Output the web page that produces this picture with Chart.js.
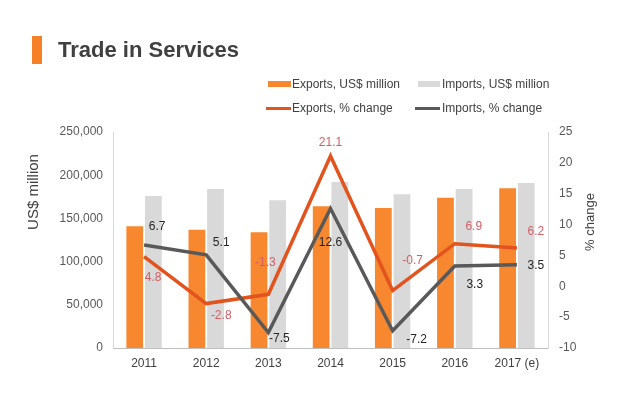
<!DOCTYPE html>
<html>
<head>
<meta charset="utf-8">
<script src="https://cdn.jsdelivr.net/npm/chart.js@4/dist/chart.umd.min.js"></script>
<style>
  body { margin: 0; background: #fff; font-family: "Liberation Sans", Arial, sans-serif; }
  #wrap { position: relative; width: 635px; height: 397px; }
  #chartBox { position: absolute; left: 0; top: 0; width: 635px; height: 397px; }
  .bar { position: absolute; left: 32px; top: 36px; width: 10px; height: 28px; background: #f58025; }
  .title { position: absolute; left: 58px; top: 36px; font-size: 22px; font-weight: bold; color: #404040; line-height: 28px; }
  .lg { position: absolute; font-size: 12px; color: #404040; line-height: 14px; white-space: nowrap; }
  .sw { position: absolute; }
  .ytitle { position: absolute; color: #404040; white-space: nowrap; transform: rotate(-90deg); transform-origin: center center; }
</style>
</head>
<body>
<div id="wrap">
  <div id="chartBox"><canvas id="tradeChart"></canvas></div>
  <div class="bar"></div>
  <div class="title">Trade in Services</div>

  <div class="sw" style="left:268px;top:81px;width:23px;height:6px;background:#f7882f"></div>
  <div class="lg" style="left:292px;top:77px">Exports, US$ million</div>
  <div class="sw" style="left:418px;top:81px;width:22px;height:6px;background:#d9d9d9"></div>
  <div class="lg" style="left:442px;top:77px">Imports, US$ million</div>

  <div class="sw" style="left:266px;top:107px;width:25px;height:3px;background:#e2531d"></div>
  <div class="lg" style="left:292px;top:101px">Exports, % change</div>
  <div class="sw" style="left:415px;top:107px;width:25px;height:3px;background:#595959"></div>
  <div class="lg" style="left:442px;top:101px">Imports, % change</div>

  <div class="ytitle" style="left:-7px;top:183px;width:80px;height:18px;font-size:15px;line-height:18px;text-align:center">US$ million</div>
  <div class="ytitle" style="left:560px;top:214px;width:60px;height:16px;font-size:13px;line-height:16px;text-align:center">% change</div>
</div>
<script>
window.onload = function() {

  // データ
  var years = ["2011", "2012", "2013", "2014", "2015", "2016", "2017 (e)"];
  var exportsValue = [141000, 137000, 134000, 164000, 162000, 174000, 185000];
  var importsValue = [176000, 184000, 171000, 192000, 178000, 184000, 191000];
  var exportsChange = [4.8, -2.8, -1.3, 21.1, -0.7, 6.9, 6.2];
  var importsChange = [6.7, 5.1, -7.5, 12.6, -7.2, 3.3, 3.5];

  // ラベル位置 (点からのずれ)
  var exportsLabelShift = [[9, 21], [15, 12], [-3, -32], [0, -13], [20, -30], [19, -17], [19, -16]];
  var importsLabelShift = [[13, -18], [15, -12], [11, 6], [0, 34], [24, 9], [20, 19], [19, 1]];

  var pointLabels = {
    id: "pointLabels",
    afterDatasetsDraw: function(chart) {
      var ctx = chart.ctx;
      ctx.save();
      ctx.font = "12px 'Liberation Sans', Arial, sans-serif";
      ctx.textAlign = "center";
      ctx.textBaseline = "middle";
      chart.data.datasets.forEach(function(ds, di) {
        if (!ds.labelShift) return;
        var meta = chart.getDatasetMeta(di);
        ctx.fillStyle = ds.labelColor;
        meta.data.forEach(function(pt, i) {
          var s = ds.labelShift[i];
          ctx.fillText(ds.data[i].toFixed(1), pt.x + s[0], pt.y + s[1]);
        });
      });
      ctx.restore();
    }
  };

  var ctx = document.getElementById("tradeChart").getContext("2d");

  var myChart = new Chart(ctx, {
    type: "bar",
    data: {
      labels: years,
      datasets: [
        {
          type: "line",
          label: "Exports, % change",
          data: exportsChange,
          yAxisID: "y1",
          borderColor: "#e2531d",
          borderWidth: 3.5,
          pointRadius: 0,
          tension: 0,
          order: 1,
          labelShift: exportsLabelShift,
          labelColor: "#d45d63"
        },
        {
          type: "line",
          label: "Imports, % change",
          data: importsChange,
          yAxisID: "y1",
          borderColor: "#595959",
          borderWidth: 3.5,
          pointRadius: 0,
          tension: 0,
          order: 0,
          labelShift: importsLabelShift,
          labelColor: "#262626"
        },
        {
          label: "Exports, US$ million",
          data: exportsValue,
          yAxisID: "y",
          backgroundColor: "#f7882f",
          categoryPercentage: 0.6,
          barPercentage: 0.9,
          order: 2
        },
        {
          label: "Imports, US$ million",
          data: importsValue,
          yAxisID: "y",
          backgroundColor: "#d9d9d9",
          categoryPercentage: 0.6,
          barPercentage: 0.9,
          order: 3
        }
      ]
    },
    options: {
      responsive: true,
      maintainAspectRatio: false,
      animation: false,
      layout: { padding: { top: 132, left: 0, right: 0, bottom: 0 } },
      plugins: {
        legend: { display: false },
        title: { display: false },
        tooltip: { enabled: false }
      },
      scales: {
        x: {
          grid: { display: false, drawTicks: false },
          border: { display: true, color: "#bfbfbf" },
          ticks: { color: "#404040", font: { size: 12, family: "'Liberation Sans', Arial, sans-serif" }, padding: 8, maxRotation: 0 },
          afterFit: function(scale) { scale.height = 49; }
        },
        y: {
          position: "left",
          min: 0,
          max: 250000,
          grid: { display: false, drawTicks: false },
          border: { display: true, color: "#d9d9d9" },
          ticks: {
            stepSize: 50000,
            padding: 10,
            color: "#595959",
            font: { size: 12, family: "'Liberation Sans', Arial, sans-serif" },
            callback: function(v) { return v.toLocaleString("en-US"); }
          },
          afterFit: function(scale) { scale.width = 113; }
        },
        y1: {
          position: "right",
          min: -10,
          max: 25,
          grid: { display: false, drawTicks: false },
          border: { display: true, color: "#d9d9d9" },
          ticks: {
            stepSize: 5,
            padding: 11,
            color: "#595959",
            font: { size: 12, family: "'Liberation Sans', Arial, sans-serif" }
          },
          afterFit: function(scale) { scale.width = 87; }
        }
      }
    },
    plugins: [pointLabels]
  });

};
</script>
</body>
</html>
